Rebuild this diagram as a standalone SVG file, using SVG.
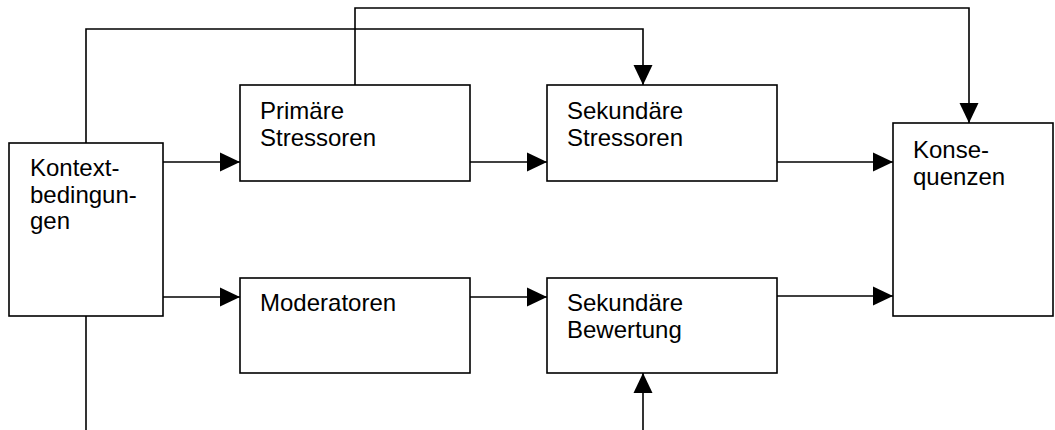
<svg xmlns="http://www.w3.org/2000/svg" width="1055" height="430" viewBox="0 0 1055 430">
<defs>
<marker id="ah" markerWidth="20" markerHeight="20" refX="20" refY="10" orient="auto" markerUnits="userSpaceOnUse" viewBox="0 0 20 20">
<path d="M0,0.5 L20,10 L0,19.5 Z" fill="#000"/>
</marker>
</defs>
<style>
rect{fill:#fff;stroke:#000;stroke-width:1.6}
text{font-family:"Liberation Sans",Arial,sans-serif;font-size:24px;fill:#000}
.c{fill:none;stroke:#000;stroke-width:1.6}
.a{marker-end:url(#ah)}
</style>
<rect x="0" y="0" width="1055" height="430" style="stroke:none"/>
<g id="connectors">
<path class="c a" d="M86,143 V29 H643 V85"/>
<path class="c a" d="M355,85 V8 H969 V123"/>
<path class="c a" d="M163,162 H240"/>
<path class="c a" d="M470,162 H547"/>
<path class="c a" d="M777,162 H893"/>
<path class="c a" d="M163,297 H240"/>
<path class="c a" d="M470,297 H547"/>
<path class="c a" d="M777,296 H893"/>
<path class="c" d="M86,316 V430"/>
<path class="c a" d="M643,430 V373"/>
</g>
<g id="kontext">
<rect x="9" y="143" width="154" height="173"/>
<text x="30" y="176">Kontext-</text>
<text x="30" y="203">bedingun-</text>
<text x="30" y="229">gen</text>
</g>
<g id="primaere">
<rect x="240" y="85" width="230" height="96"/>
<text x="260" y="119">Primäre</text>
<text x="260" y="146">Stressoren</text>
</g>
<g id="sek-stressoren">
<rect x="547" y="85" width="230" height="96"/>
<text x="567" y="119">Sekundäre</text>
<text x="567" y="146">Stressoren</text>
</g>
<g id="konsequenzen">
<rect x="893" y="123" width="160" height="193"/>
<text x="913" y="158">Konse-</text>
<text x="913" y="185">quenzen</text>
</g>
<g id="moderatoren">
<rect x="240" y="278" width="230" height="95"/>
<text x="260" y="311">Moderatoren</text>
</g>
<g id="sek-bewertung">
<rect x="547" y="278" width="230" height="95"/>
<text x="567" y="311">Sekundäre</text>
<text x="567" y="338">Bewertung</text>
</g>
</svg>
